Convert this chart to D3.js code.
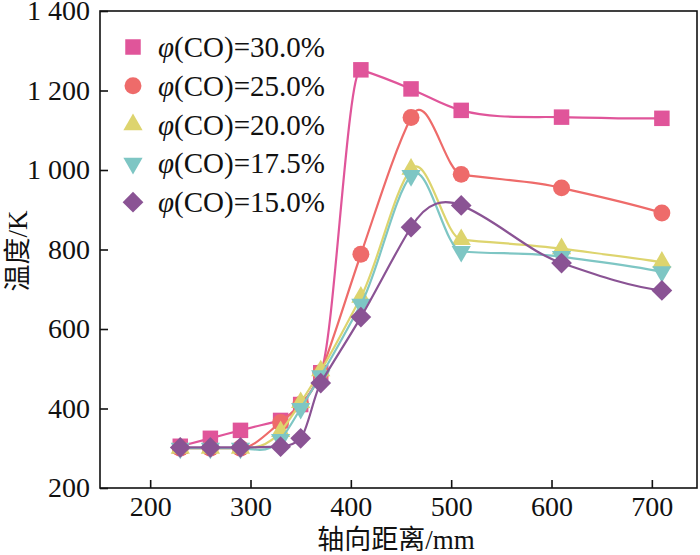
<!DOCTYPE html>
<html>
<head>
<meta charset="utf-8">
<script src="https://cdn.jsdelivr.net/npm/d3@7"></script>
<style>
  body { margin: 0; background: #fff; }
  svg { display: block; }
  .tick text { font-family: "Liberation Serif", "Times New Roman", serif; }
</style>
</head>
<body>
<svg id="chart" width="700" height="555"></svg>
<script>
// axial distance (mm) where temperatures were measured
var positions = [230, 260, 290, 330, 350, 370, 410, 460, 510, 610, 710];

// temperature (K) for each CO fraction
var co300 = [305, 325, 345, 370, 410, 490, 1252, 1204, 1150, 1133, 1130];
var co250 = [300, 300, 300, 365, 410, 490, 788, 1132, 989, 955, 892];
var co200 = [300, 300, 300, 342, 415, 495, 680, 1002, 825, 802, 768];
var co175 = [300, 300, 300, 322, 400, 482, 662, 986, 795, 782, 744];
var co150 = [302, 302, 302, 304, 325, 464, 630, 856, 911, 766, 697];

var seriesNames = ['30.0%', '25.0%', '20.0%', '17.5%', '15.0%'];
var seriesColors = ['#e0559a', '#ee6b6a', '#ddd46e', '#7ec6c4', '#8a5394'];

var xTicks = [200, 300, 400, 500, 600, 700];
var yTicks = [200, 400, 600, 800, 1000, 1200, 1400];
var yTickLabels = ['200', '400', '600', '800', '1 000', '1 200', '1 400'];

/**************************************************************************************/

var svg = d3.select('#chart');
var margin = { left: 100, right: 3, top: 11, bottom: 67 };
var width = 700 - margin.left - margin.right;
var height = 555 - margin.top - margin.bottom;

var x = d3.scaleLinear().domain([150, 745]).range([0, width]);
var y = d3.scaleLinear().domain([200, 1400]).range([height, 0]);

var g = svg.append('g').attr('transform', 'translate(' + margin.left + ',' + margin.top + ')');

// frame
g.append('rect').attr('x', 0).attr('y', 0).attr('width', width).attr('height', height)
    .attr('fill', 'none').attr('stroke', '#111').attr('stroke-width', 1.6);

var xAxis = g.append('g').attr('transform', 'translate(0,' + height + ')')
    .call(d3.axisBottom(x).tickValues(xTicks).tickSizeInner(-8).tickSizeOuter(0).tickPadding(8));
var yAxis = g.append('g')
    .call(d3.axisLeft(y).tickValues(yTicks).tickSizeInner(-8).tickSizeOuter(0).tickPadding(10)
        .tickFormat(function(d, i){ return yTickLabels[i]; }));

[xAxis, yAxis].forEach(function(a){
    a.select('.domain').remove();
    a.selectAll('.tick line').attr('stroke', '#111').attr('stroke-width', 1.6);
    a.selectAll('.tick text').attr('fill', '#111').style('font-size', '28px');
});

// axis titles (Chinese part in CJK font, units in serif)
function addTitle(sel, cn, unit){
    sel.append('tspan').style('font-family', '"Noto Sans CJK SC", sans-serif').text(cn);
    sel.append('tspan').style('font-family', '"Liberation Serif", serif').text(unit);
}
var xTitle = svg.append('text').attr('x', 396).attr('y', 549)
    .attr('text-anchor', 'middle').attr('fill', '#111').style('font-size', '27px');
addTitle(xTitle, '轴向距离', '/mm');
var yTitle = svg.append('text').attr('transform', 'translate(27,251) rotate(-90)')
    .attr('text-anchor', 'middle').attr('fill', '#111').style('font-size', '27px');
addTitle(yTitle, '温度', '/K');

// Akima spline through the points, drawn as cubic beziers via the scales
function akimaPath(xs, ys){
    var n = xs.length, m = [], t = [], i;
    for(i=0; i<n-1; i++){ m[i+2] = (ys[i+1]-ys[i]) / (xs[i+1]-xs[i]); }
    m[1] = 2*m[2] - m[3];
    m[0] = 2*m[1] - m[2];
    m[n+1] = 2*m[n] - m[n-1];
    m[n+2] = 2*m[n+1] - m[n];
    for(i=0; i<n; i++){
        var w1 = Math.abs(m[i+3] - m[i+2]), w2 = Math.abs(m[i+1] - m[i]);
        t[i] = (w1 + w2) > 1e-9 ? (w1*m[i+1] + w2*m[i+2]) / (w1 + w2) : 0.5*(m[i+1] + m[i+2]);
    }
    var p = d3.path();
    p.moveTo(x(xs[0]), y(ys[0]));
    for(i=0; i<n-1; i++){
        var h = xs[i+1] - xs[i];
        p.bezierCurveTo(x(xs[i] + h/3), y(ys[i] + t[i]*h/3),
                        x(xs[i+1] - h/3), y(ys[i+1] - t[i+1]*h/3),
                        x(xs[i+1]), y(ys[i+1]));
    }
    return p.toString();
}

var series = [co300, co250, co200, co175, co150];
var symbols = [
    d3.symbol().type(d3.symbolSquare).size(240),
    d3.symbol().type(d3.symbolCircle).size(225),
    d3.symbol().type(d3.symbolTriangle).size(160),
    d3.symbol().type(d3.symbolTriangle).size(160),
    d3.symbol().type(d3.symbolSquare).size(215)
];
var rotations = [0, 0, 0, 180, 45];

series.forEach(function(vals, k){
    g.append('path').attr('d', akimaPath(positions, vals))
        .attr('fill', 'none').attr('stroke', seriesColors[k]).attr('stroke-width', 2.2);
    g.append('g').selectAll('path').data(vals).enter().append('path')
        .attr('d', symbols[k])
        .attr('transform', function(d, i){
            return 'translate(' + x(positions[i]) + ',' + y(d) + ') rotate(' + rotations[k] + ')';
        })
        .attr('fill', seriesColors[k]);
});

// legend
var legend = svg.append('g').attr('transform', 'translate(133,47)');
seriesNames.forEach(function(name, k){
    var row = legend.append('g').attr('transform', 'translate(0,' + (k * 38.8) + ')');
    row.append('path').attr('d', symbols[k]).attr('fill', seriesColors[k])
        .attr('transform', 'rotate(' + rotations[k] + ')');
    var t = row.append('text').attr('x', 25).attr('y', 10).attr('fill', '#111')
        .style('font-family', '"Liberation Serif", "Times New Roman", serif').style('font-size', '29px');
    t.append('tspan').style('font-style', 'italic').text('φ');
    t.append('tspan').text('(CO)=' + name);
});
</script>
</body>
</html>
